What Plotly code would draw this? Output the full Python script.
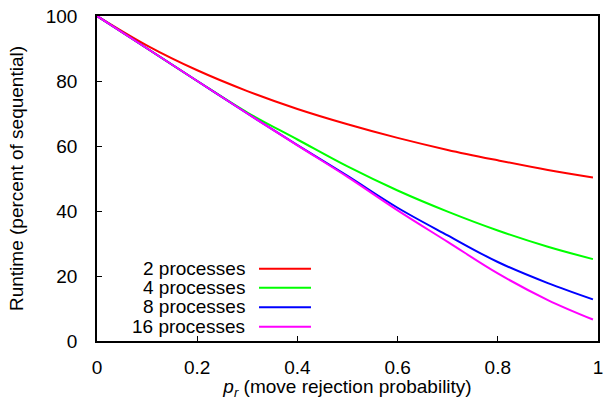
import plotly.graph_objects as go

# Data
p_r = [0, 0.1, 0.2, 0.3, 0.4, 0.5, 0.6, 0.7, 0.8, 0.9, 0.99]
series_names = ["2 processes", "4 processes", "8 processes", "16 processes"]
runtime_2 = [100, 90.9, 83.3, 76.9, 71.4, 66.7, 62.5, 58.8, 55.6, 52.6, 50.3]
runtime_4 = [100, 90.0, 80.0, 70.3, 62.0, 53.7, 46.3, 39.8, 34.0, 29.0, 25.2]
runtime_8 = [100, 90.0, 80.0, 70.0, 60.3, 50.8, 41.0, 32.5, 24.3, 17.8, 12.8]
runtime_16 = [100, 90.0, 80.0, 70.0, 60.2, 50.5, 40.2, 30.5, 20.8, 12.6, 6.6]
colors = ["#ff0000", "#00ff00", "#0000ff", "#ff00ff"]
x_ticks = [0, 0.2, 0.4, 0.6, 0.8, 1]
x_tick_labels = ["0", "0.2", "0.4", "0.6", "0.8", "1"]
y_ticks = [0, 20, 40, 60, 80, 100]

all_series = [runtime_2, runtime_4, runtime_8, runtime_16]

fig = go.Figure()
for name, ys, c in zip(series_names, all_series, colors):
    fig.add_trace(go.Scatter(x=p_r, y=ys, mode="lines", name=name,
                             line=dict(color=c, width=2, shape="spline", smoothing=1.0),
                             showlegend=False))

FONT = "Liberation Sans, Arial, sans-serif"
FS = 19

# gnuplot-style legend: right-aligned text followed by line sample
leg_y = [0.224, 0.166, 0.106, 0.046]
for name, c, yy in zip(series_names, colors, leg_y):
    fig.add_annotation(xref="paper", yref="paper", x=0.2994, y=yy, text=name,
                       showarrow=False, xanchor="right", yanchor="middle",
                       font=dict(family=FONT, size=FS, color="black"))
    fig.add_shape(type="line", xref="paper", yref="paper",
                  x0=0.3234, x1=0.4271, y0=yy - 0.002, y1=yy - 0.002,
                  line=dict(color=c, width=2))

fig.update_layout(
    width=605, height=400,
    margin=dict(l=97, r=7, t=16, b=59),
    paper_bgcolor="white", plot_bgcolor="white",
    font=dict(family=FONT, size=FS, color="black"),
    xaxis=dict(range=[-0.0001, 1.0001], tickvals=x_ticks, ticktext=x_tick_labels,
               ticks="inside", ticklen=5, tickcolor="black", tickwidth=1,
               showline=True, linecolor="black", linewidth=1.5, mirror=True,
               showgrid=False, zeroline=False, ticklabelstandoff=8,
               automargin=False,
               title=dict(text="<i>p<sub>r</sub></i> (move rejection probability)",
                          standoff=5, font=dict(size=FS))),
    yaxis=dict(range=[0, 100], tickvals=y_ticks,
               ticks="inside", ticklen=5, tickcolor="black", tickwidth=1,
               showline=True, linecolor="black", linewidth=1.5, mirror=True,
               showgrid=False, zeroline=False, ticklabelstandoff=14,
               automargin=False,
               title=dict(text="Runtime (percent of sequential)", standoff=17,
                          font=dict(size=FS))),
)

fig.write_html("out.html", post_script="document.body.style.margin='0';",
               config={"displayModeBar": False})
